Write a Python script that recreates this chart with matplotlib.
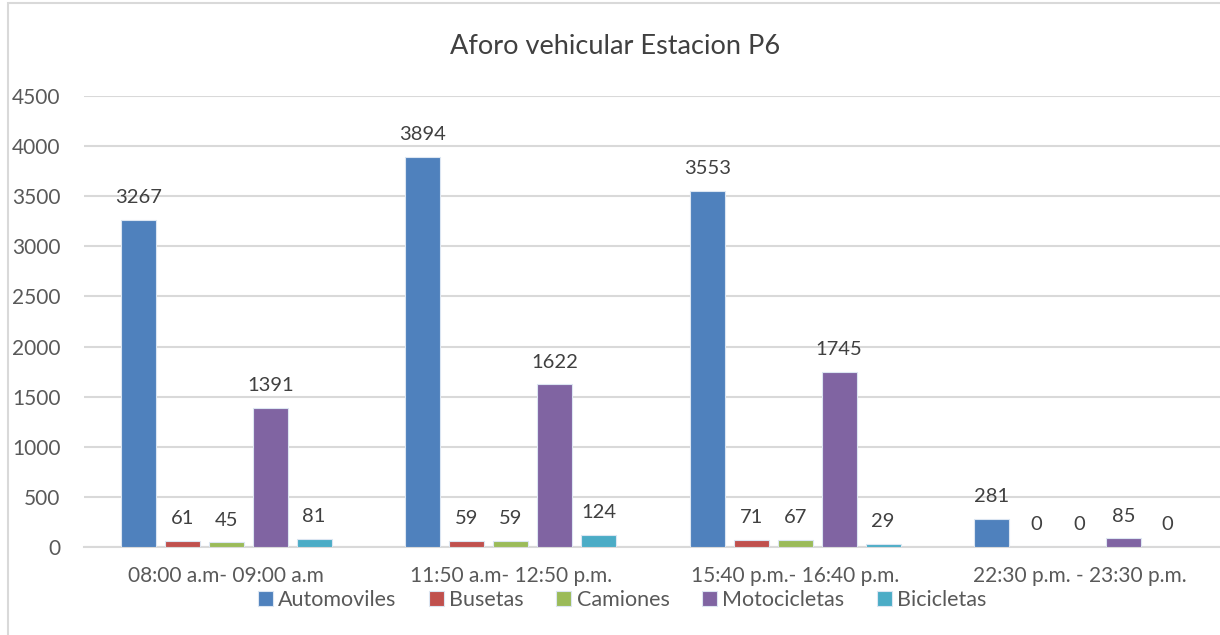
import numpy as np
import matplotlib
import matplotlib.pyplot as plt
from matplotlib.patches import Rectangle

# ─── Data ─────────────────────────────────────────────────────────
periods = ['08:00 a.m- 09:00 a.m', '11:50 a.m- 12:50 p.m.',
           '15:40 p.m.- 16:40 p.m.', '22:30 p.m. - 23:30 p.m.']
series = ['Automoviles', 'Busetas', 'Camiones', 'Motocicletas', 'Bicicletas']
automoviles = [3267, 3894, 3553, 281]
busetas = [61, 59, 71, 0]
camiones = [45, 59, 67, 0]
motocicletas = [1391, 1622, 1745, 85]
bicicletas = [81, 124, 29, 0]
colors = ['#4F81BD', '#C0504D', '#9BBB59', '#8064A2', '#4BACC6']

matplotlib.rcParams['font.family'] = ['Lato', 'DejaVu Sans']

fig = plt.figure(figsize=(12.2, 6.35), dpi=100)
ax = fig.add_axes([84 / 1220, 1 - 547 / 635, (1222 - 84) / 1220, (547 - 96) / 635])

# chart border like the Excel frame
fig.patches.append(Rectangle((8 / 1220, -0.05), 1.2, 632 / 635 + 0.05,
                             transform=fig.transFigure, fill=False,
                             edgecolor='#D9D9D9', linewidth=1.5))

x = np.arange(len(periods))
pitch = 44 / 285
width = 35 / 285
values = [automoviles, busetas, camiones, motocicletas, bicicletas]
for i, (name, vals, c) in enumerate(zip(series, values, colors)):
    pos = x + (i - 2) * pitch
    bars = ax.bar(pos, vals, width, color=c, edgecolor='#DCE6F2', linewidth=0.8,
                  label=name, zorder=3)
    for b, v in zip(bars, vals):
        ax.annotate(f'{v}', (b.get_x() + b.get_width() / 2, v),
                    xytext=(0, 10), textcoords='offset points',
                    ha='center', va='bottom', fontsize=14.5, color='#404040')

ax.set_xlim(-0.5, len(periods) - 0.5)
ax.set_ylim(0, 4500)
ax.set_yticks(range(0, 4501, 500))
ax.set_xticks(x)
ax.set_xticklabels(periods)
ax.tick_params(axis='both', length=0, labelsize=15, labelcolor='#595959')
ax.tick_params(axis='x', pad=14)
ax.tick_params(axis='y', pad=17)
ax.grid(axis='y', color='#D9D9D9', linewidth=1.5, zorder=0)
for s in ['top', 'right', 'left']:
    ax.spines[s].set_visible(False)
ax.spines['bottom'].set_color('#D9D9D9')
ax.spines['bottom'].set_linewidth(1.5)

fig.text(615 / 1220, 1 - 47 / 635, 'Aforo vehicular Estacion P6',
         ha='center', va='center', fontsize=19.5, color='#404040')

fig.legend(loc='center', bbox_to_anchor=(622 / 1220, 1 - 600 / 635), ncol=5,
           frameon=False, fontsize=15.5, handlelength=0.7, handleheight=0.7,
           handletextpad=0.25, columnspacing=1.5, labelcolor='#595959')

fig.savefig('out.png', dpi=100)
